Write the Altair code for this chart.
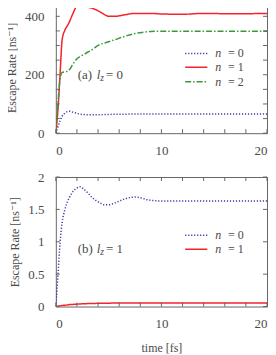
import altair as alt
import pandas as pd

# time grid [fs]
t = [0, 0.2, 0.4, 0.6, 0.85, 1.1, 1.3, 1.6, 2.0, 2.3, 2.6, 3.0, 3.4, 3.7, 4.2,
     4.6, 5.0, 5.6, 6.5, 7.5, 9, 10, 12, 14, 16, 18, 20]

# panel (a) l_z = 0  [ns^-1]
a_n0 = [0, 22, 42, 58, 68, 74, 75, 72, 68, 65, 64, 63, 63, 63, 63,
        64, 64, 65, 65, 66, 66, 66, 66, 66, 66, 66, 66]
a_n1 = [0, 80, 200, 320, 352, 368, 382, 408, 437, 447, 445, 432, 428, 424, 415,
        406, 400, 400, 405, 410, 410, 408, 407, 410, 409, 409, 410]
a_n2 = [0, 100, 185, 208, 210, 212, 218, 235, 255, 263, 268, 277, 285, 293, 304,
        308, 313, 320, 331, 341, 348, 349, 349, 349, 349, 349, 349]

# panel (b) l_z = 1
b_n0 = [0, 0.48, 0.98, 1.3, 1.49, 1.62, 1.69, 1.77, 1.83, 1.85, 1.82, 1.76, 1.69, 1.65, 1.6,
        1.57, 1.57, 1.6, 1.66, 1.69, 1.64, 1.63, 1.63, 1.63, 1.63, 1.63, 1.63]
b_n1 = [0, 0.005, 0.01, 0.015, 0.02, 0.025, 0.03, 0.033, 0.037, 0.04, 0.042, 0.045, 0.047, 0.048, 0.05,
        0.051, 0.052, 0.053, 0.054, 0.055, 0.055, 0.055, 0.055, 0.055, 0.055, 0.055, 0.055]

labels = ["n = 0", "n = 1", "n = 2"]
label_vals = ["0", "1", "2"]
colors = ["#3a3aa8", "#f5222a", "#3a9a3a"]
dashes = [[1.2, 1.8], [1, 0], [6, 2, 1.5, 2]]

x_ticks = list(range(0, 21, 2))
ya_ticks = list(range(0, 451, 50))
yb_ticks = [0, 0.5, 1, 1.5, 2]

FONT = "'Liberation Serif', 'DejaVu Serif', serif"
TXT = "#4a4a4a"
FRAME = "#666666"
W = 212


def long_df(series):
    rows = []
    for lab, vals in series:
        for tt, v in zip(t, vals):
            rows.append({"t": tt, "v": v, "n": lab})
    return pd.DataFrame(rows)


def panel(df, ydom, ylabels, ticks_y, H, ntr, leg_rows, tag, lzval, ann_y, xtitle):
    xs = alt.Scale(domain=[0, 20], nice=False, zero=False)
    ys = alt.Scale(domain=ydom, nice=False, zero=False)
    xax = alt.Axis(values=[0, 10, 20], title=xtitle, labelPadding=11, titlePadding=12,
                   labelOverlap=False, format="~r")
    yax = alt.Axis(values=ylabels, title="Escape Rate [ns⁻¹]", format="~r",
                   tickCount=len(ylabels), labelPadding=12, titlePadding=6,
                   labelOverlap=False)
    lab = labels[:ntr]
    lines = alt.Chart(df).mark_line(clip=True, strokeWidth=1.5, interpolate="monotone").encode(
        x=alt.X("t:Q", scale=xs, axis=xax),
        y=alt.Y("v:Q", scale=ys, axis=yax),
        color=alt.Color("n:N", scale=alt.Scale(domain=lab, range=colors[:ntr]), legend=None),
        strokeDash=alt.StrokeDash("n:N", scale=alt.Scale(domain=lab, range=dashes[:ntr]),
                                  legend=None),
    )
    xt = pd.DataFrame({"t": x_ticks})
    yt = pd.DataFrame({"v": ticks_y})
    tb = alt.Chart(xt).mark_rule(color=FRAME).encode(
        x=alt.X("t:Q", scale=xs, axis=xax), y=alt.value(H), y2=alt.value(H - 4))
    tt_ = alt.Chart(xt).mark_rule(color=FRAME).encode(
        x=alt.X("t:Q", scale=xs, axis=xax), y=alt.value(0), y2=alt.value(4))
    tl = alt.Chart(yt).mark_rule(color=FRAME).encode(
        y=alt.Y("v:Q", scale=ys, axis=yax), x=alt.value(0), x2=alt.value(4))
    tr = alt.Chart(yt).mark_rule(color=FRAME).encode(
        y=alt.Y("v:Q", scale=ys, axis=yax), x=alt.value(W - 4), x2=alt.value(W))

    def txt(s, tx, ty, dy=0, size=13, style="normal"):
        return alt.Chart().mark_text(align="left", baseline="middle", font=FONT, fontSize=size,
                                     fontStyle=style, color=TXT, dy=dy).encode(
            x=alt.datum(tx), y=alt.datum(ty), text=alt.value(s))

    layers = [lines, tb, tt_, tl, tr,
              txt(tag, 2.08, ann_y), txt("l", 3.87, ann_y, style="italic"),
              txt("z", 4.2, ann_y, dy=3, size=9.5, style="italic"),
              txt("= " + lzval, 4.75, ann_y)]
    # legend (key lines + labels)
    for i in range(ntr):
        ry = leg_rows[i]
        layers.append(alt.Chart().mark_rule(strokeWidth=1.5, color=colors[i],
                                            strokeDash=dashes[i]).encode(
            x=alt.datum(12.25), x2=alt.datum(14.35), y=alt.datum(ry)))
        layers.append(txt("n", 15.1, ry, size=12, style="italic"))
        layers.append(txt("= " + label_vals[i], 16.3, ry, size=12))
    return alt.layer(*layers).properties(width=W, height=H)


top = panel(long_df([(labels[0], a_n0), (labels[1], a_n1), (labels[2], a_n2)]),
            [0, 450], [0, 200, 400], ya_ticks, 132, 3, [273, 226, 176],
            "(a)", "0", 200, None)
bot = panel(long_df([(labels[0], b_n0), (labels[1], b_n1)]),
            [0, 2], [0, 0.5, 1, 1.5, 2], yb_ticks, 130, 2, [1.1, 0.885],
            "(b)", "1", 0.89, "time [fs]")

chart = alt.vconcat(top, bot, spacing=12).resolve_scale(
    color="independent", strokeDash="independent", x="independent", y="independent"
).properties(
    padding={"top": -8, "left": -3, "right": 0, "bottom": 0}
).configure_view(stroke=FRAME, strokeWidth=1).configure_axis(
    grid=False, domain=False, ticks=False, labelFont=FONT, labelFontSize=13, labelColor=TXT,
    titleFont=FONT, titleFontSize=12, titleFontWeight="normal", titleColor=TXT,
    labelOverlap=False
)

chart.save("out.html", embed_options={"renderer": "svg", "actions": False})
